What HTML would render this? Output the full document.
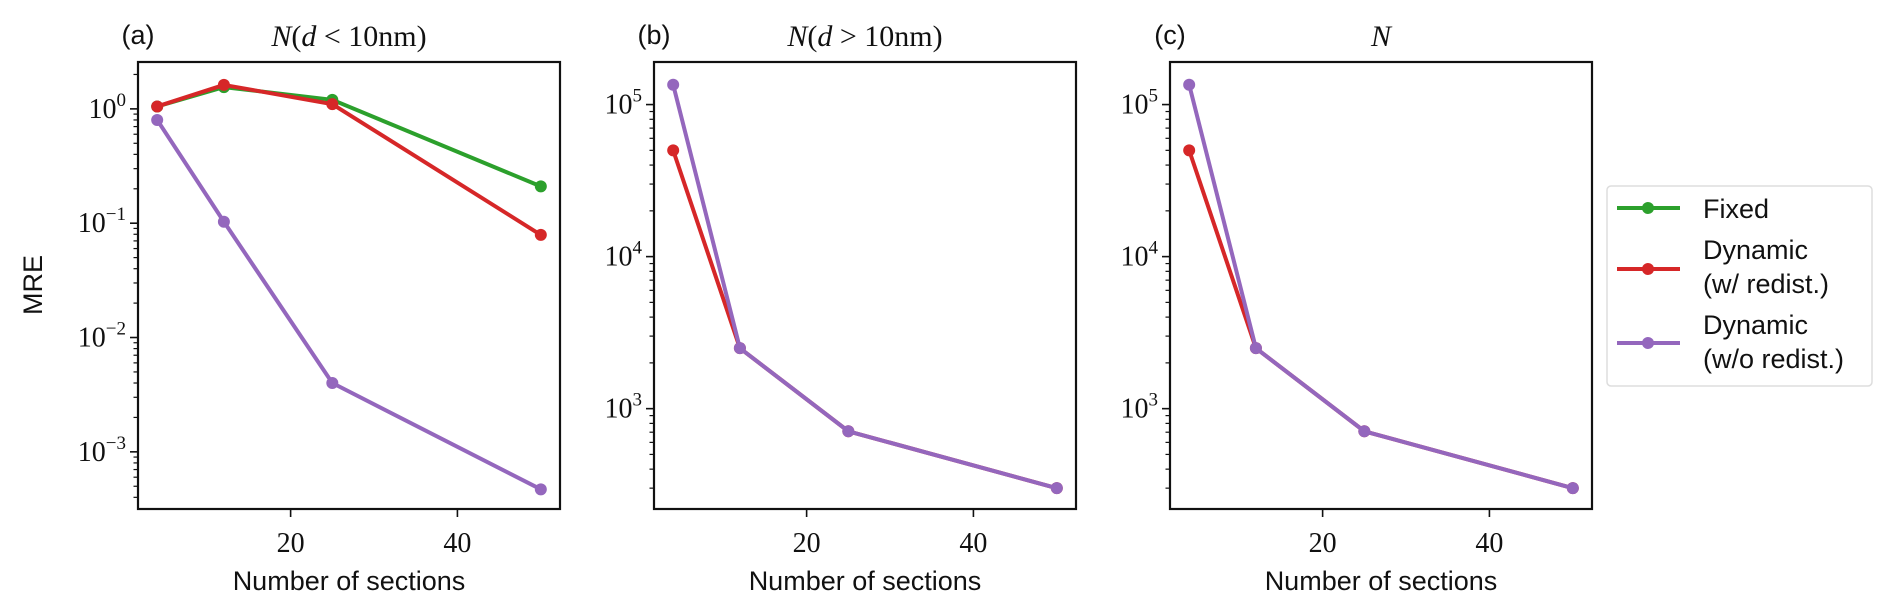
<!DOCTYPE html>
<html><head><meta charset="utf-8"><style>
body{margin:0;background:#fff;}
svg{display:block;}
.tick{font-family:"Liberation Serif",serif;font-size:28px;fill:#111;}
.lab{font-family:"Liberation Sans",sans-serif;font-size:27px;fill:#111;}
.ttl{font-family:"Liberation Serif",serif;font-size:30px;fill:#111;}
</style></head><body>
<svg id="fig" width="1892" height="607" xmlns="http://www.w3.org/2000/svg"></svg>
<script>
const sections = [4, 12, 25, 50];
const aFixed = [1.05, 1.55, 1.2, 0.21];
const aRedist = [1.05, 1.62, 1.1, 0.079];
const aNoRedist = [0.80, 0.103, 0.004, 0.00047];
const bRedist = [50000, 2500, 710, 300];
const bNoRedist = [135000, 2500, 710, 300];
const cRedist = [50000, 2500, 710, 300];
const cNoRedist = [135000, 2500, 710, 300];
const aTicks = [0, -1, -2, -3];
const bTicks = [3, 4, 5];
const xTicks = [20, 40];
const colors = {fixed:'#2ca02c', red:'#d62728', purple:'#9467bd'};

const NS='http://www.w3.org/2000/svg';
const svg=document.getElementById('fig');
function el(tag,attrs,parent){const e=document.createElementNS(NS,tag);for(const k in attrs)e.setAttribute(k,attrs[k]);(parent||svg).appendChild(e);return e;}

function panel(id,left,label,titleHTML,lmin,lmax,yt,series,ylab){
  const top=62,bot=509,w=422;
  const g=el('g',{});
  
  
  const xs=v=>left+(v-1.7)/(52.3-1.7)*w;
  const ys=v=>bot-(Math.log10(v)-lmin)/(lmax-lmin)*(bot-top);
  for(let d=Math.floor(lmin);d<=Math.ceil(lmax);d++){
    for(let m=1;m<10;m++){
      const lv=d+Math.log10(m);
      if(lv<lmin||lv>lmax)continue;
      const y=bot-(lv-lmin)/(lmax-lmin)*(bot-top);
      el('line',{x1:left-(m===1?8:4.5),x2:left,y1:y,y2:y,stroke:'#111','stroke-width':m===1?1.6:1.2},g);
    }
  }
  yt.forEach(p=>{
    const y=ys(Math.pow(10,p));
    const t=el('text',{x:left-12,y:y+9,'text-anchor':'end',class:'tick'},g);
    
    
    t.innerHTML='10<tspan dy="-12" font-size="19">'+p.toString().replace('-','−')+'</tspan>';
  });
  xTicks.forEach(v=>{
    const x=xs(v);
    el('line',{x1:x,x2:x,y1:bot,y2:bot+8,stroke:'#111','stroke-width':1.6},g);
    const t=el('text',{x:x,y:bot+43,'text-anchor':'middle',class:'tick'},g);
    
    
    t.textContent=v;
  });
  series.forEach(s=>{
    const pts=sections.map((v,i)=>xs(v)+','+ys(s.vals[i])).join(' ');
    const pl=el('polyline',{points:pts,fill:'none',stroke:s.c,'stroke-width':4,'stroke-linejoin':'round'},g);
    
    
    sections.forEach((v,i)=>{
      const c=el('circle',{cx:xs(v),cy:ys(s.vals[i]),r:6,fill:s.c},g);
      
      
    });
  });
  const fr=el('rect',{x:left,y:top,width:w,height:bot-top,fill:'none',stroke:'#111','stroke-width':2.2},g);
  
  
  const pl=el('text',{x:left,y:44,'text-anchor':'middle',class:'lab'},g);
  
  
  pl.textContent=label;
  const tt=el('text',{x:left+w/2,y:46,'text-anchor':'middle',class:'ttl'},g);
  
  
  tt.innerHTML=titleHTML;
  const xl=el('text',{x:left+w/2,y:590,'text-anchor':'middle',class:'lab'},g);
  
  
  xl.textContent='Number of sections';
  if(ylab){
    const yl=el('text',{x:0,y:0,'text-anchor':'middle',class:'lab',transform:'translate(42,285) rotate(-90)'},g);
    
    
    yl.textContent='MRE';
  }
}
panel('a',138,'(a)','<tspan font-style="italic">N</tspan>(<tspan font-style="italic">d</tspan> &lt; 10nm)',-3.5,0.41,aTicks,
 [{name:'fixed',c:colors.fixed,vals:aFixed},{name:'dynamic-redist',c:colors.red,vals:aRedist},{name:'dynamic-no-redist',c:colors.purple,vals:aNoRedist}],true);
panel('b',654,'(b)','<tspan font-style="italic">N</tspan>(<tspan font-style="italic">d</tspan> &gt; 10nm)',2.34,5.28,bTicks,
 [{name:'dynamic-redist',c:colors.red,vals:bRedist},{name:'dynamic-no-redist',c:colors.purple,vals:bNoRedist}],false);
panel('c',1170,'(c)','<tspan font-style="italic">N</tspan>',2.34,5.28,bTicks,
 [{name:'dynamic-redist',c:colors.red,vals:cRedist},{name:'dynamic-no-redist',c:colors.purple,vals:cNoRedist}],false);

const lg=el('g',{});


el('rect',{x:1607,y:186,width:265,height:200,rx:4,fill:'#fff',stroke:'#ddd','stroke-width':1.5},lg);
const entries=[{c:colors.fixed,y:208,lines:['Fixed'],ty:[218]},
 {c:colors.red,y:269,lines:['Dynamic','(w/ redist.)'],ty:[259,293]},
 {c:colors.purple,y:343,lines:['Dynamic','(w/o redist.)'],ty:[334,368]}];
entries.forEach(e=>{
  const g=el('g',{},lg);
  
  
  el('line',{x1:1617,x2:1680,y1:e.y,y2:e.y,stroke:e.c,'stroke-width':4},g);
  el('circle',{cx:1648,cy:e.y,r:6,fill:e.c},g);
  e.lines.forEach((t,i)=>{const tx=el('text',{x:1703,y:e.ty[i],class:'lab'},g);tx.textContent=t;});
});
</script>
</body></html>
